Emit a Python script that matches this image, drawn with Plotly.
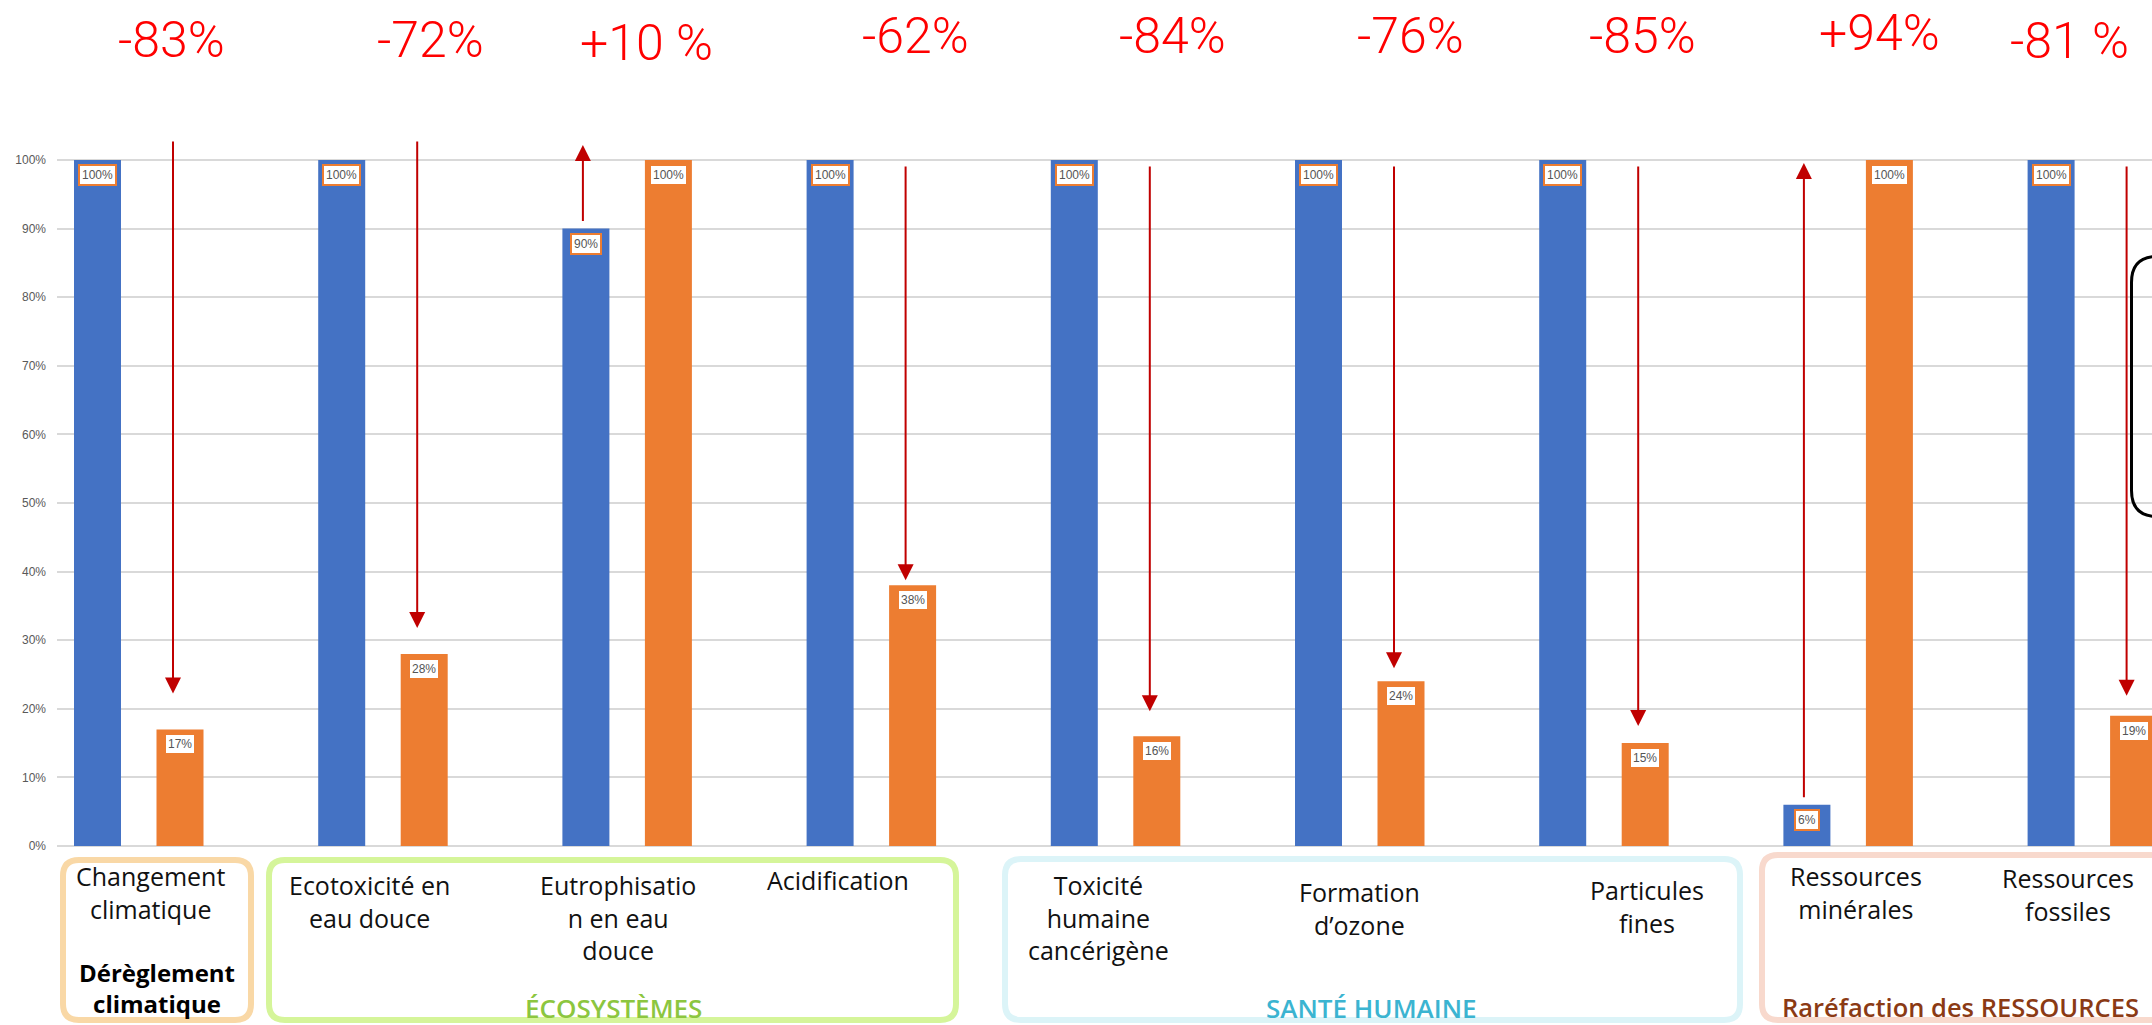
import plotly.graph_objects as go

# ---- data -------------------------------------------------------------
categories = [
    "Changement climatique", "Ecotoxicité en eau douce", "Eutrophisation en eau douce",
    "Acidification", "Toxicité humaine cancérigène", "Formation d'ozone",
    "Particules fines", "Ressources minérales", "Ressources fossiles",
]
category_labels = [
    "Changement<br>climatique", "Ecotoxicité en<br>eau douce", "Eutrophisatio<br>n en eau<br>douce",
    "Acidification", "Toxicité<br>humaine<br>cancérigène", "Formation<br>d’ozone",
    "Particules<br>fines", "Ressources<br>minérales", "Ressources<br>fossiles",
]
series_a = [1.00, 1.00, 0.90, 1.00, 1.00, 1.00, 1.00, 0.06, 1.00]
series_b = [0.17, 0.28, 1.00, 0.38, 0.16, 0.24, 0.15, 1.00, 0.19]
change_labels = ["-83%", "-72%", "+10 %", "-62%", "-84%", "-76%", "-85%", "+94%", "-81 %"]
y_ticks = [0.0, 0.1, 0.2, 0.3, 0.4, 0.5, 0.6, 0.7, 0.8, 0.9, 1.0]
y_tick_labels = ["0%", "10%", "20%", "30%", "40%", "50%", "60%", "70%", "80%", "90%", "100%"]
group_titles = ["Dérèglement<br>climatique", "ÉCOSYSTÈMES", "SANTÉ HUMAINE", "Raréfaction des RESSOURCES"]

# ---- layout geometry (pixels) ----------------------------------------
W, H = 2152, 1025
PLOT_LEFT = 57
ZERO_PX, FULL_PX = 846, 160
GROUP0_PX, STEP_PX = 138.75, 244.2
UNIT_Y = ZERO_PX - FULL_PX
X0 = (PLOT_LEFT - GROUP0_PX) / STEP_PX
X1 = X0 + (W - PLOT_LEFT) / STEP_PX
Y0 = -(H - ZERO_PX) / UNIT_Y
Y1 = ZERO_PX / UNIT_Y

BAR_OFF = 41.25 / STEP_PX
BAR_W = 47 / STEP_PX

BLUE, ORANGE = "#4472C4", "#ED7D31"
ARROW = "#C00000"


def gx(p):
    return X0 + (p - PLOT_LEFT) / STEP_PX


def gy(p):
    return (ZERO_PX - p) / UNIT_Y


idx = list(range(len(categories)))

fig = go.Figure()
fig.add_trace(go.Bar(x=idx, y=series_a, offset=-BAR_OFF - BAR_W / 2, width=BAR_W,
                     marker=dict(color=BLUE, line=dict(width=0)), name="A",
                     hovertext=categories))
fig.add_trace(go.Bar(x=idx, y=series_b, offset=BAR_OFF - BAR_W / 2, width=BAR_W,
                     marker=dict(color=ORANGE, line=dict(width=0)), name="B",
                     hovertext=categories))

ann = []
shapes = []

# value boxes at the top of each bar
for series, sign in ((series_a, -1), (series_b, 1)):
    for i, v in zip(idx, series):
        ann.append(dict(x=i + sign * BAR_OFF, y=v, xref="x", yref="y", yanchor="top",
                        yshift=-4, text=f"{round(v * 100)}%", showarrow=False,
                        font=dict(family="Liberation Sans, Arial", size=12, color="#555555"),
                        bgcolor="white", bordercolor=ORANGE, borderwidth=2, borderpad=2))

# arrows from the reference level to the new level
arrow_top_px = [140, 140, 145, 165, 165, 165, 165, 163, 165]
arrow_gap_px = [36, 26, 0, 5, 25, 13, 17, 0, 20]
for i in idx:
    a, b = series_a[i], series_b[i]
    if b < a:
        x = i + BAR_OFF - 7 / STEP_PX
        tail = gy(arrow_top_px[i])
        head = b + arrow_gap_px[i] / UNIT_Y
    else:
        x = i - BAR_OFF - 3 / STEP_PX
        tail = a + 6 / UNIT_Y
        head = gy(arrow_top_px[i])
    ann.append(dict(x=x, y=head, ax=x, ay=tail, xref="x", yref="y", axref="x", ayref="y",
                    text="", showarrow=True, arrowhead=2, arrowsize=1.6, arrowwidth=2,
                    arrowcolor=ARROW, standoff=0, startstandoff=0))

# relative change figures above the chart
change_px = [(171, 40), (430, 40), (646, 43), (915, 36), (1172, 36),
             (1410, 36), (1642, 36), (1879, 33), (2069, 41)]
for txt, (px, py) in zip(change_labels, change_px):
    ann.append(dict(x=gx(px), y=gy(py), xref="x", yref="y", text=txt, showarrow=False,
                    xanchor="center", yanchor="middle",
                    font=dict(family="Roboto", size=50, color="#FF0000", weight=300)))

# category names under the axis
LABEL_SIZE = 25
label_px = [(150, 884), (369.5, 893), (618, 893), (838, 888), (1098, 893),
            (1359, 900), (1647, 898), (1856, 884), (2068, 886)]
for txt, (px, base) in zip(category_labels, label_px):
    ann.append(dict(x=gx(px), y=gy(base - 1.08 * LABEL_SIZE), xref="x", yref="y",
                    text=txt, showarrow=False, xanchor="center", yanchor="top", align="center",
                    font=dict(family="Open Sans", size=LABEL_SIZE, color="#111111")))

# impact family boxes and their titles
def rounded(x0, y0, x1, y1, r):
    pts = [
        ("M", (x0 + r, y0)), ("L", (x1 - r, y0)), ("Q", (x1, y0), (x1, y0 + r)),
        ("L", (x1, y1 - r)), ("Q", (x1, y1), (x1 - r, y1)), ("L", (x0 + r, y1)),
        ("Q", (x0, y1), (x0, y1 - r)), ("L", (x0, y0 + r)), ("Q", (x0, y0), (x0 + r, y0)),
    ]
    out = []
    for cmd, *ps in pts:
        out.append(cmd + " ".join(f"{gx(p[0]):.5f},{gy(p[1]):.5f}" for p in ps))
    return " ".join(out) + " Z"


box_style = [
    ((63, 860, 251, 1020), "#F9D8A6"),
    ((269, 860, 956, 1020), "#D5F59A"),
    ((1005, 859, 1740, 1020), "#DCF4F8"),
    ((1762, 855, 2260, 1020), "#F8D9CD"),
]
for (x0, y0, x1, y1), col in box_style:
    shapes.append(dict(type="path", path=rounded(x0, y0, x1, y1, 16), xref="x", yref="y",
                       line=dict(color=col, width=6), fillcolor="rgba(0,0,0,0)", layer="above"))

# frame partly visible on the right edge
shapes.append(dict(type="path", path=rounded(2131.5, 256.5, 2300, 516.5, 26), xref="x", yref="y",
                   line=dict(color="black", width=3), fillcolor="rgba(0,0,0,0)", layer="above"))

title_style = [
    (157, 980, "#000000", 24, 700),
    (613, 1016, "#8CC63F", 26, 600),
    (1371, 1016, "#3BB4D1", 26, 600),
    (1960, 1016, "#8B3A14", 25.5, 600),
]
for txt, (px, base, col, size, wt) in zip(group_titles, title_style):
    ann.append(dict(x=gx(px), y=gy(base - 1.08 * size), xref="x", yref="y", text=txt,
                    showarrow=False, xanchor="center", yanchor="top", align="center",
                    font=dict(family="Open Sans", size=size, color=col, weight=wt)))

fig.update_layout(
    width=W, height=H, autosize=False,
    margin=dict(l=PLOT_LEFT, r=0, t=0, b=0, pad=0),
    paper_bgcolor="white", plot_bgcolor="white",
    showlegend=False, barmode="overlay",
    annotations=ann, shapes=shapes,
    xaxis=dict(range=[X0, X1], showgrid=False, zeroline=False, showticklabels=False,
               ticks="", showline=False, fixedrange=True),
    yaxis=dict(range=[Y0, Y1], tickvals=y_ticks, ticktext=y_tick_labels,
               showgrid=True, gridcolor="#D9D9D9", gridwidth=2,
               zeroline=True, zerolinecolor="#D9D9D9", zerolinewidth=2,
               ticks="", ticklabelstandoff=10, showline=False,
               tickfont=dict(family="Liberation Sans, Arial", size=12, color="#595959"),
               fixedrange=True),
)

fig.write_html("out.html")
